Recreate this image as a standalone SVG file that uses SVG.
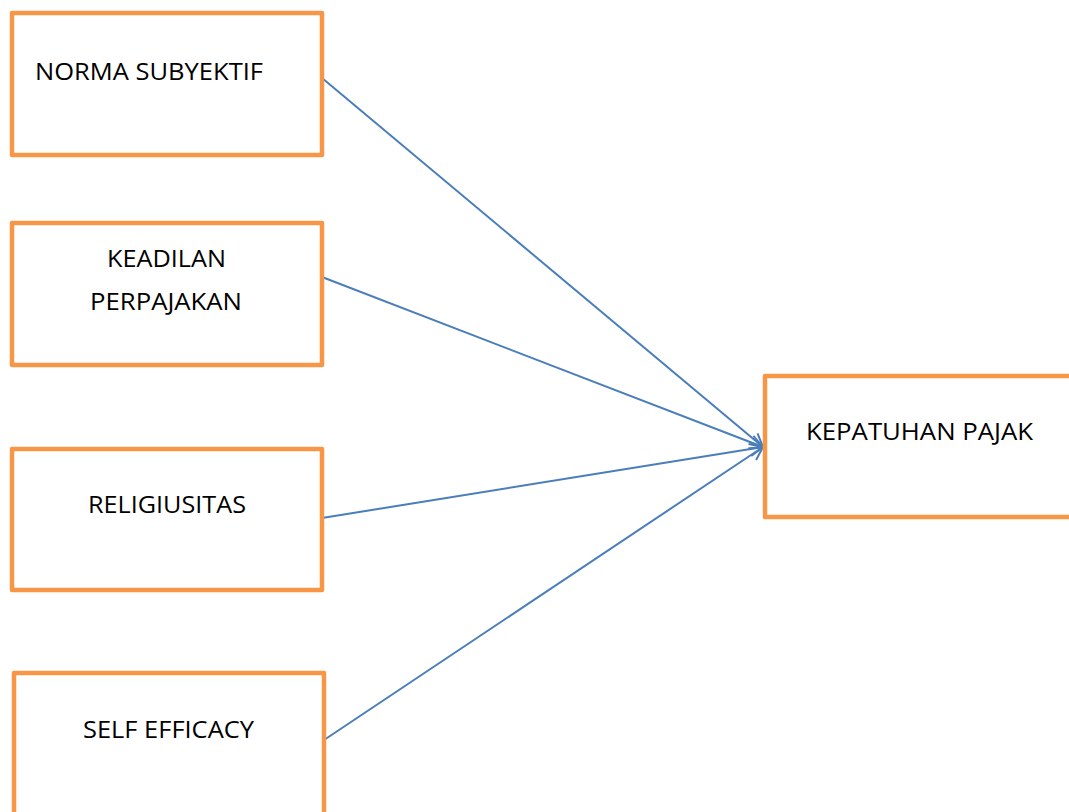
<svg xmlns="http://www.w3.org/2000/svg" width="1069" height="812" viewBox="0 0 1069 812">
<style>
.box{fill:#fff;stroke:#F79646;stroke-width:4.5;stroke-linejoin:round}
.t{font-family:"Open Sans","Liberation Sans",sans-serif;font-size:24.5px;fill:#000}
.c{fill:none;stroke:#4A7EBB;stroke-width:2}
</style>
<defs>
<marker id="arr" markerWidth="16" markerHeight="16" refX="14" refY="8" orient="auto" markerUnits="userSpaceOnUse">
<path d="M1,1 L14,8 L1,15" fill="none" stroke="#4A7EBB" stroke-width="2"/>
</marker>
</defs>
<rect width="1069" height="812" fill="#fff"/>
<g id="connectors">
<line class="c" x1="322" y1="78" x2="763" y2="447" marker-end="url(#arr)"/>
<line class="c" x1="322" y1="277" x2="763" y2="447" marker-end="url(#arr)"/>
<line class="c" x1="322" y1="518" x2="763" y2="447" marker-end="url(#arr)"/>
<line class="c" x1="324" y1="740" x2="763" y2="447" marker-end="url(#arr)"/>
</g>
<g id="norma">
<rect class="box" x="12" y="13" width="310" height="142"/>
<text class="t" x="35" y="80" textLength="228" lengthAdjust="spacingAndGlyphs">NORMA SUBYEKTIF</text>
</g>
<g id="keadilan">
<rect class="box" x="12" y="223" width="310" height="142"/>
<text class="t" x="107" y="267" textLength="119" lengthAdjust="spacingAndGlyphs">KEADILAN</text>
<text class="t" x="90" y="310" textLength="152" lengthAdjust="spacingAndGlyphs">PERPAJAKAN</text>
</g>
<g id="religiusitas">
<rect class="box" x="12" y="449" width="310" height="141"/>
<text class="t" x="88" y="513" textLength="158" lengthAdjust="spacingAndGlyphs">RELIGIUSITAS</text>
</g>
<g id="selfefficacy">
<rect class="box" x="14" y="673" width="310" height="145"/>
<text class="t" x="83" y="738" textLength="171" lengthAdjust="spacingAndGlyphs">SELF EFFICACY</text>
</g>
<g id="kepatuhan">
<rect class="box" x="765" y="376" width="310" height="141"/>
<text class="t" x="806" y="440" textLength="227" lengthAdjust="spacingAndGlyphs">KEPATUHAN PAJAK</text>
</g>
</svg>
